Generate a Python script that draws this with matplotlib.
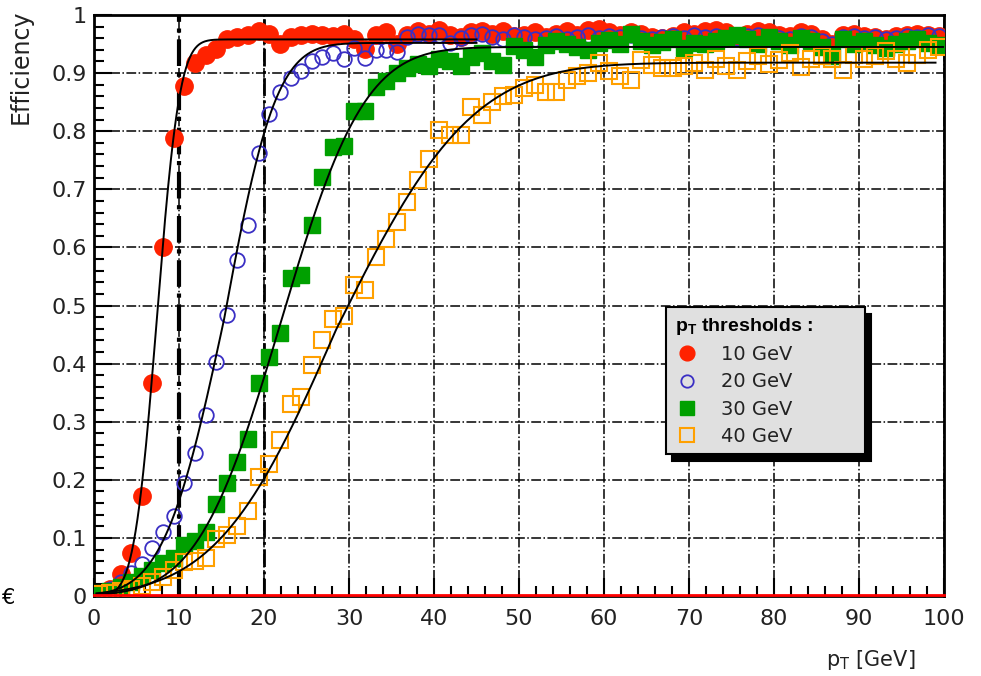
import math

import matplotlib

matplotlib.use("Agg")
import matplotlib.pyplot as plt
import numpy as np
from matplotlib.lines import Line2D
from matplotlib.ticker import MultipleLocator, FuncFormatter

plt.rcParams["font.family"] = ["DejaVu Sans"]

# bin centres, 1.25 GeV bins
pt = np.arange(80) * 1.25 + 0.625

eff_10 = [
    0.003, 0.012, 0.038, 0.074, 0.172, 0.366, 0.600, 0.788, 0.878, 0.918,
    0.932, 0.942, 0.958, 0.962, 0.965, 0.972, 0.968, 0.950, 0.962, 0.966,
    0.968, 0.966, 0.964, 0.968, 0.958, 0.942, 0.965, 0.970, 0.950, 0.966,
    0.972, 0.968, 0.974, 0.966, 0.962, 0.970, 0.972, 0.968, 0.972, 0.964,
    0.966, 0.970, 0.962, 0.968, 0.972, 0.966, 0.974, 0.976, 0.970, 0.966,
    0.970, 0.968, 0.962, 0.960, 0.964, 0.970, 0.968, 0.972, 0.974, 0.970,
    0.962, 0.968, 0.972, 0.970, 0.966, 0.964, 0.970, 0.968, 0.958, 0.950,
    0.966, 0.968, 0.964, 0.962, 0.958, 0.964, 0.966, 0.968, 0.966, 0.964,
]
eff_20 = [
    0.005, 0.012, 0.025, 0.040, 0.055, 0.082, 0.111, 0.137, 0.194, 0.246,
    0.311, 0.403, 0.484, 0.579, 0.639, 0.763, 0.830, 0.868, 0.892, 0.904,
    0.921, 0.928, 0.935, 0.925, 0.943, 0.926, 0.940, 0.940, 0.937, 0.962,
    0.968, 0.966, 0.966, 0.951, 0.960, 0.966, 0.968, 0.962, 0.958, 0.966,
    0.962, 0.958, 0.960, 0.964, 0.958, 0.962, 0.966, 0.960, 0.964, 0.962,
    0.966, 0.960, 0.958, 0.962, 0.964, 0.960, 0.966, 0.962, 0.964, 0.958,
    0.960, 0.964, 0.966, 0.962, 0.960, 0.958, 0.964, 0.962, 0.956, 0.950,
    0.962, 0.964, 0.960, 0.962, 0.958, 0.960, 0.964, 0.962, 0.966, 0.964,
]
eff_30 = [
    0.005, 0.008, 0.015, 0.025, 0.035, 0.045, 0.057, 0.065, 0.088, 0.095,
    0.111, 0.158, 0.195, 0.231, 0.271, 0.367, 0.412, 0.452, 0.548, 0.553,
    0.639, 0.722, 0.772, 0.775, 0.834, 0.834, 0.876, 0.886, 0.900, 0.908,
    0.915, 0.912, 0.925, 0.920, 0.912, 0.928, 0.935, 0.920, 0.914, 0.946,
    0.940, 0.928, 0.948, 0.956, 0.950, 0.945, 0.940, 0.952, 0.957, 0.950,
    0.968, 0.955, 0.948, 0.954, 0.958, 0.944, 0.952, 0.950, 0.955, 0.960,
    0.965, 0.958, 0.950, 0.962, 0.955, 0.948, 0.960, 0.955, 0.945, 0.930,
    0.958, 0.950, 0.955, 0.948, 0.944, 0.950, 0.955, 0.958, 0.952, 0.948,
]
eff_40 = [
    0.003, 0.005, 0.008, 0.012, 0.018, 0.025, 0.033, 0.045, 0.058, 0.061,
    0.065, 0.098, 0.105, 0.121, 0.147, 0.205, 0.228, 0.268, 0.331, 0.342,
    0.398, 0.440, 0.476, 0.482, 0.535, 0.527, 0.584, 0.615, 0.644, 0.679,
    0.716, 0.753, 0.802, 0.794, 0.793, 0.842, 0.828, 0.851, 0.860, 0.862,
    0.874, 0.879, 0.868, 0.868, 0.888, 0.895, 0.900, 0.917, 0.903, 0.895,
    0.888, 0.922, 0.914, 0.908, 0.908, 0.912, 0.917, 0.905, 0.925, 0.912,
    0.905, 0.920, 0.930, 0.915, 0.922, 0.935, 0.910, 0.925, 0.930, 0.925,
    0.905, 0.932, 0.925, 0.930, 0.938, 0.925, 0.918, 0.932, 0.940, 0.945,
]

labels = ["10 GeV", "20 GeV", "30 GeV", "40 GeV"]

# turn-on fit parameters (plateau, 50% point, widths)
fit_plateau = [0.958, 0.952, 0.945, 0.918]
fit_mu = [7.4, 15.3, 22.0, 28.5]
fit_sig_lo = [2.1, 5.6, 7.7, 11.0]
fit_sig_hi = [2.1, 4.8, 7.7, 12.5]
fit_xmax = [45, 45, 100, 99]

verf = np.vectorize(math.erf)


def turn_on(x, p, mu, slo, shi):
    s = np.where(x < mu, slo, shi)
    return p * 0.5 * (1 + verf((x - mu) / (np.sqrt(2) * s)))


fig = plt.figure(figsize=(9.81, 6.76), dpi=100)
ax = fig.add_axes([0.0958, 0.1183, 0.8665, 0.8595])

styles = [
    dict(marker="o", color="#ff2200", mfc="#ff2200", mec="#ff2200", ms=12.5),
    dict(marker="o", color="#3a2fc4", mfc="none", mec="#3a2fc4", ms=10.5, mew=1.3),
    dict(marker="s", color="#00a000", mfc="#00a000", mec="#00a000", ms=11.5),
    dict(marker="s", color="#ffa000", mfc="none", mec="#ffa000", ms=12, mew=1.5),
]
series = [eff_10, eff_20, eff_30, eff_40]
handles = []
for vals, st, lab in zip(series, styles, labels):
    ax.plot(pt, vals, ls="none", zorder=3, **st)
    handles.append(Line2D([], [], ls="none", **{k: v for k, v in st.items() if k != "ms"},
                          ms=st["ms"] * 0.85))

for p, mu, slo, shi, xm in zip(fit_plateau, fit_mu, fit_sig_lo, fit_sig_hi, fit_xmax):
    xf = np.linspace(0.3, xm, 400)
    ax.plot(xf, turn_on(xf, p, mu, slo, shi), color="black", lw=1.4, zorder=4)

ax.set_xlim(0, 100)
ax.set_ylim(0, 1)
ax.xaxis.set_major_locator(MultipleLocator(10))
ax.xaxis.set_minor_locator(MultipleLocator(2))
ax.yaxis.set_major_locator(MultipleLocator(0.1))
ax.yaxis.set_minor_locator(MultipleLocator(0.02))
ax.yaxis.set_major_formatter(FuncFormatter(lambda v, _: f"{v:g}"))
ax.tick_params(which="both", direction="in", top=False, right=False, labelsize=16,
               width=1.5, labelcolor="#222222")
ax.tick_params(axis="y", which="major", length=13, pad=5)
ax.tick_params(axis="x", which="major", length=13, pad=9)
ax.tick_params(which="minor", length=7)
ax.grid(True, which="major", color="black", ls="-.", lw=1.1)
ax.axvline(10, color="black", ls="-.", lw=3, zorder=1)
ax.axvline(20, color="black", ls="-.", lw=2, zorder=1)
for sp in ax.spines.values():
    sp.set_linewidth(2)
ax.axhline(0.002, color="red", lw=2, zorder=5, clip_on=False)

ax.set_ylabel("Efficiency", fontsize=17, loc="top", color="#222222")
ax.yaxis.set_label_coords(-0.072, 1.009)
fig.text(915 / 981, (676 - 660) / 676, r"p$_\mathregular{T}$ [GeV]", fontsize=15,
         ha="right", va="center", color="#222222")
fig.text(0.002, (676 - 598) / 676, "€", fontsize=15, va="center")

leg = ax.legend(handles, labels, loc="upper left",
                bbox_to_anchor=(0.673, 0.248, 0.234, 0.249), mode="expand",
                borderaxespad=0,
                title=r"p$_\mathregular{T}$ thresholds :", fontsize=14,
                title_fontproperties={"family": "Liberation Sans", "weight": "bold",
                                      "size": 14},
                frameon=True, fancybox=False, edgecolor="black", facecolor="#e0e0e0",
                framealpha=1, shadow={"color": "black", "alpha": 1, "ox": 4, "oy": -5},
                handletextpad=1.1, labelspacing=0.42, borderpad=0.45, handlelength=1.3)
leg._legend_box.align = "left"
for t in leg.get_texts():
    t.set_color("#222222")
leg.get_frame().set_linewidth(1.5)
leg.set_zorder(10)

fig.savefig("out.png", dpi=100)
